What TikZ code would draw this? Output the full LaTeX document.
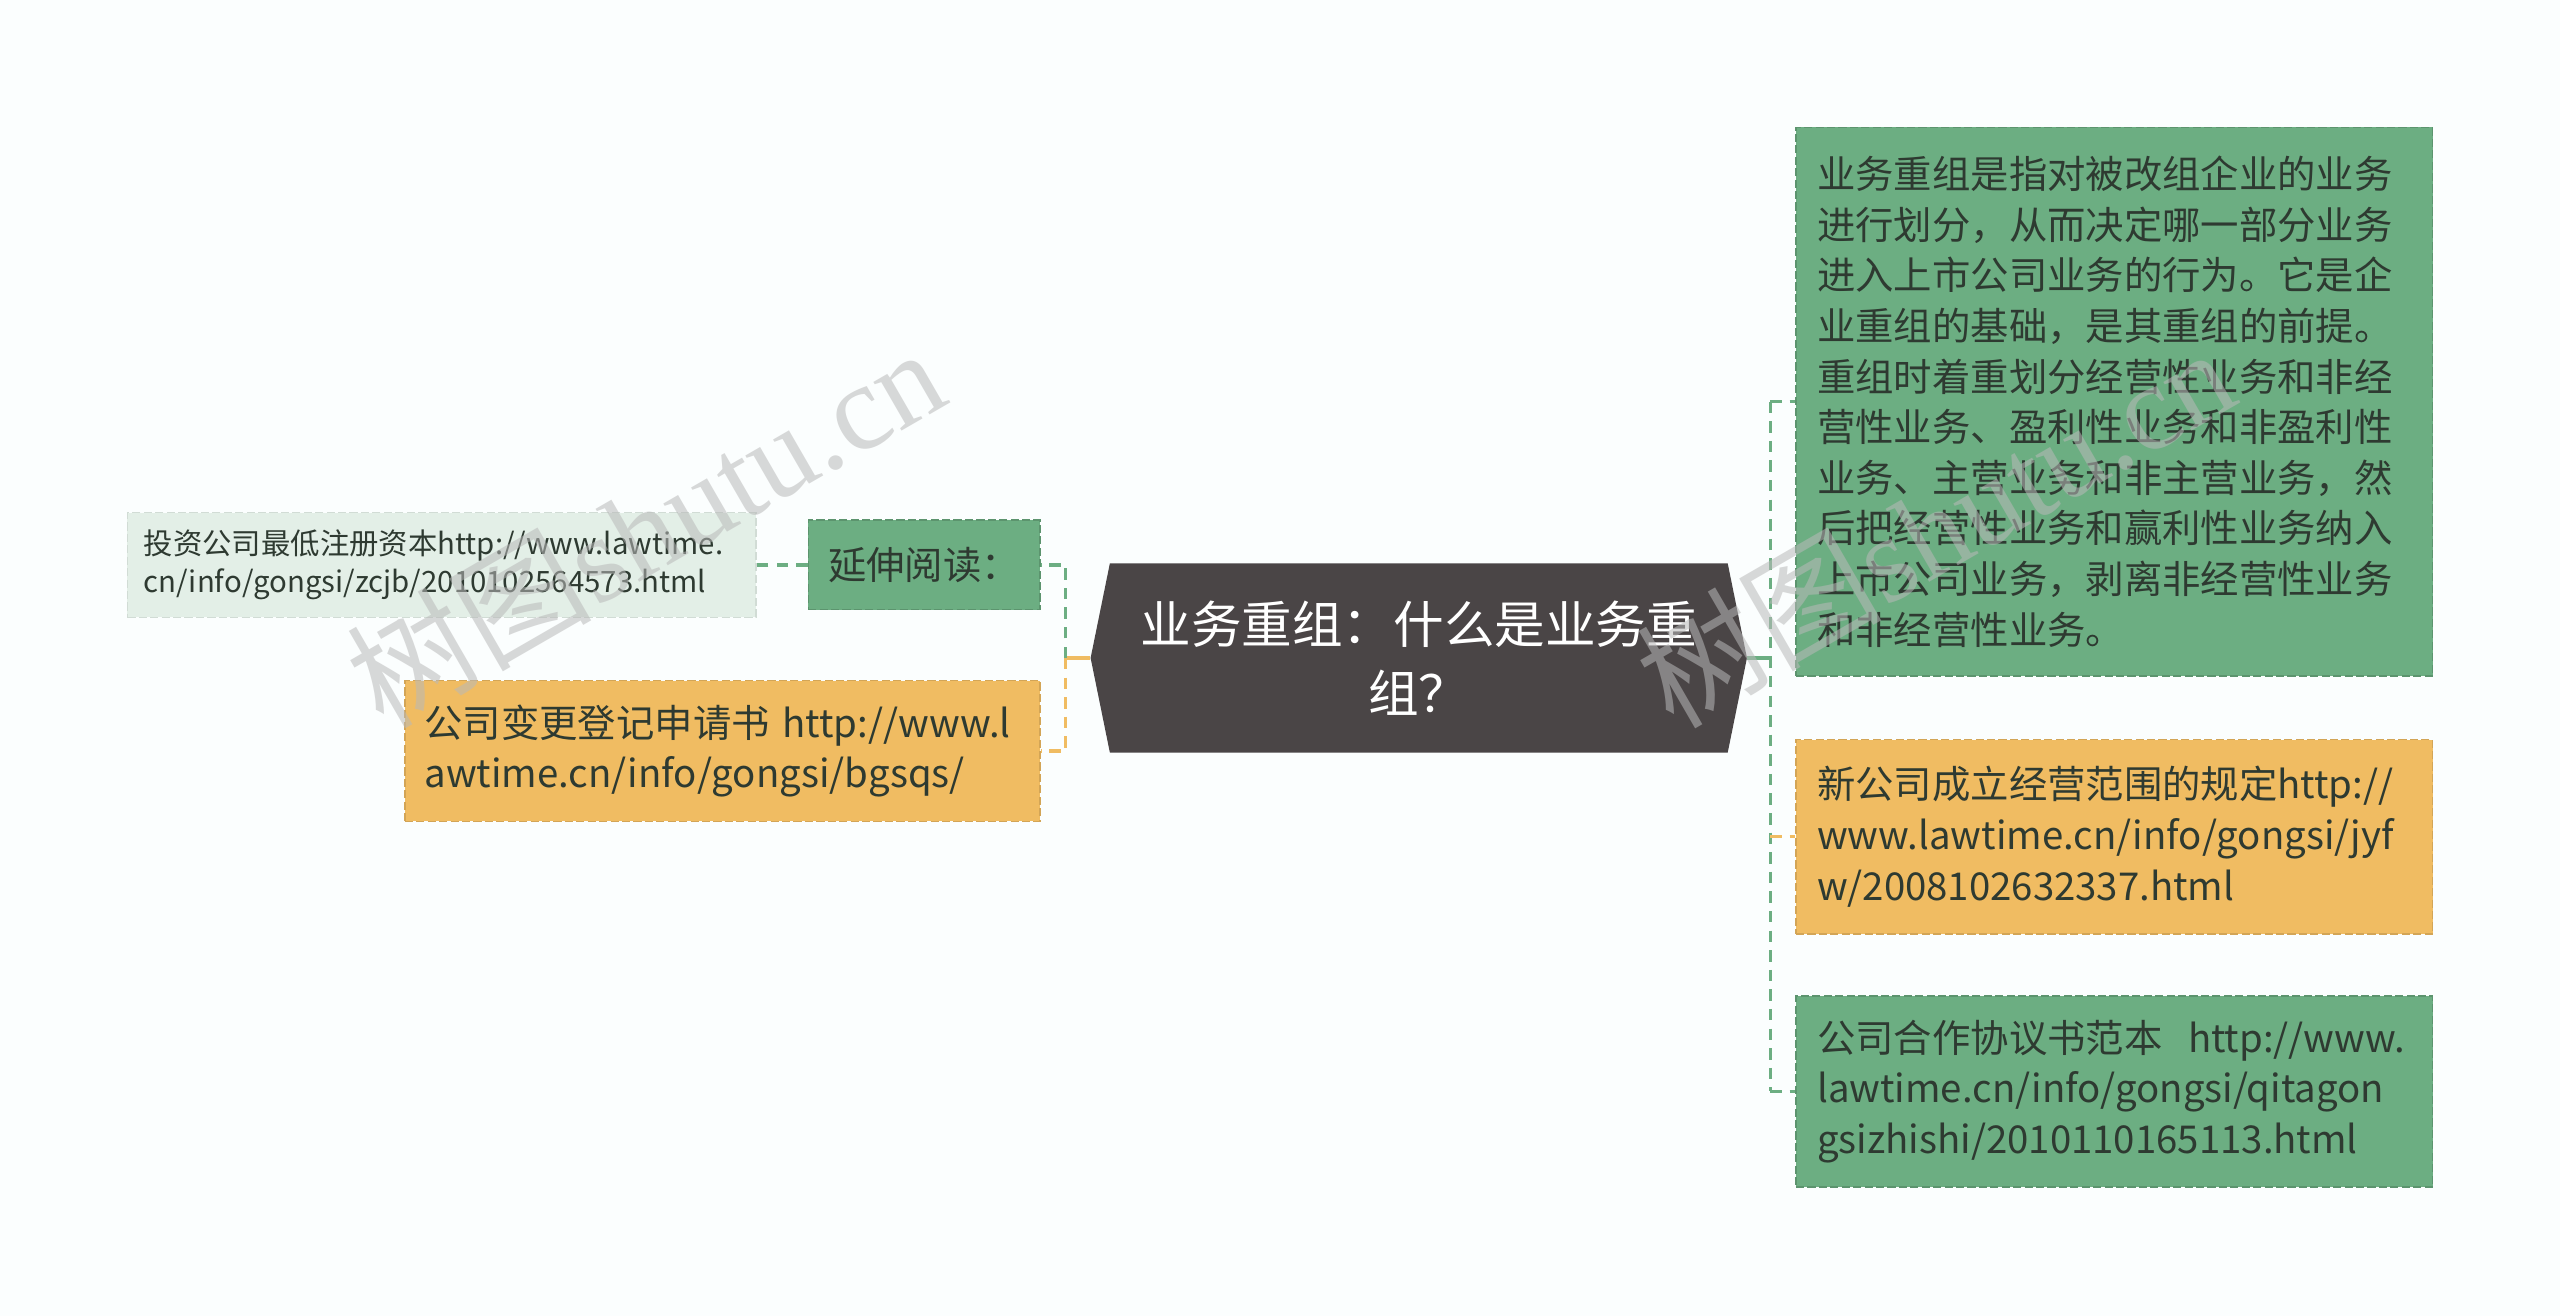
\documentclass[tikz,border=0pt]{standalone}
\usepackage{fontspec}
\setmainfont{Noto Sans CJK SC}
\newfontfamily\markfont{Liberation Serif}
\usetikzlibrary{shapes.symbols}
\definecolor{bgpaper}{HTML}{FBFEFE}
\definecolor{leafgreen}{HTML}{6CAE82}
\definecolor{leaforange}{HTML}{F0BC62}
\definecolor{paleleaf}{HTML}{E3EFE7}
\definecolor{hubgray}{HTML}{4A4546}
\definecolor{inktext}{HTML}{2E3A31}
\begin{document}
\begin{tikzpicture}[x=1pt, y=-1pt,
        every node/.style = {text=inktext, inner sep=0pt, align=left,
            font=\fontsize{23.5}{31}\selectfont},
        box/.style = {dash pattern=on 5pt off 2pt, line width=0.8pt, minimum height=#1},
        greenbox/.style = {box=#1, fill=leafgreen, draw=leafgreen!85!black},
        orangebox/.style = {box=#1, fill=leaforange, draw=leaforange!88!black},
        palebox/.style = {box=#1, fill=paleleaf, draw=paleleaf!92!black},
        hub/.style = {signal, signal to=west and east, signal pointer angle=157,
            fill=hubgray, text=white, align=center, minimum width=402, minimum height=116,
            font=\fontsize{31}{42}\selectfont},
        link/.style = {line width=2pt, dash pattern=on 7pt off 5pt},
        stub/.style = {line width=2pt},
        watermark/.style = {text=gray!55, opacity=0.55, rotate=30,
            font=\fontsize{75}{75}\selectfont}
        ]
    \fill[bgpaper] (0,0) rectangle (1568,806);
    \useasboundingbox (0,0) rectangle (1568,806);

    \node[hub] (hub) at (869,403) {业务重组：什么是业务重\\组？};

    \node[greenbox=55, minimum width=142, align=center] (read) at (566,346) {延伸阅读：};
    \node[palebox=64, inner xsep=10, text width=365, font=\fontsize{18}{23}\selectfont]
        (ref1) at (270.5,346)
        {投资公司最低注册资本http://www.lawtime.\\cn/info/gongsi/zcjb/2010102564573.html};
    \node[orangebox=86, inner xsep=12, text width=365] (ref2) at (442.5,460)
        {公司变更登记申请书~http://www.l\\awtime.cn/info/gongsi/bgsqs/};

    \node[greenbox=336, inner xsep=13, text width=364] (def) at (1295,246)
        {业务重组是指对被改组企业的业务\\
        进行划分，从而决定哪一部分业务\\
        进入上市公司业务的行为。它是企\\
        业重组的基础，是其重组的前提。\\
        重组时着重划分经营性业务和非经\\
        营性业务、盈利性业务和非盈利性\\
        业务、主营业务和非主营业务，然\\
        后把经营性业务和赢利性业务纳入\\
        上市公司业务，剥离非经营性业务\\
        和非经营性业务。};
    \node[orangebox=119, inner xsep=13, text width=364] (law1) at (1295,512.5)
        {新公司成立经营范围的规定http://\\www.lawtime.cn/info/gongsi/jyf\\w/2008102632337.html};
    \node[greenbox=117, inner xsep=13, text width=364] (law2) at (1295,668.5)
        {公司合作协议书范本~~http://www.\\lawtime.cn/info/gongsi/qitagon\\gsizhishi/2010110165113.html};

    \coordinate (lj) at ([xshift=-15]hub.west);
    \draw[stub, leaforange] (hub.west) -- (lj);
    \draw[link, leafgreen] (lj) |- (read.east);
    \draw[link, leaforange] (lj) |- (ref2.east);
    \draw[link, leafgreen] (read.west) -- (ref1.east);

    \coordinate (rj) at ([xshift=14]hub.east);
    \draw[stub, leafgreen] (hub.east) -- (rj);
    \draw[link, leafgreen] (rj |- def.west) -- (rj |- law2.west);
    \draw[link, leafgreen] (rj |- def.west) -- (def.west);
    \draw[link, leaforange] (rj |- law1.west) -- (law1.west);
    \draw[link, leafgreen] (rj |- law2.west) -- (law2.west);

    \node[watermark] (wm1) at (395,322) {树图{\markfont shutu.cn}};
    \node[watermark] (wm2) at (1185,322) {树图{\markfont shutu.cn}};
\end{tikzpicture}
\end{document}
